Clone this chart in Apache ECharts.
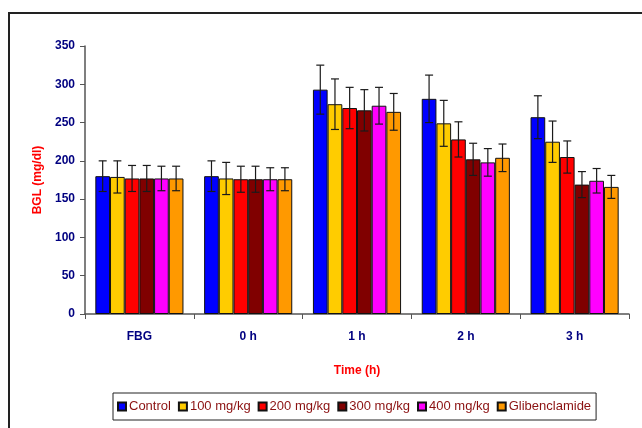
<!DOCTYPE html>
<html lang="en">
  <head>
    <meta charset="UTF-8" />
    <script src="https://cdn.jsdelivr.net/npm/echarts@6/dist/echarts.min.js"></script>
    <title>BGL chart</title>
    <style>
      html, body { margin: 0; padding: 0; background: #fff; }
      #app { width: 642px; height: 428px; }
    </style>
  </head>
  <body>
    <div id="app"></div>
    <script>
      const categories = ["FBG", "0 h", "1 h", "2 h", "3 h"];
      const groupNames = ["Control", "100 mg/kg", "200 mg/kg", "300 mg/kg", "400 mg/kg", "Glibenclamide"];
      const colors = ["#0000FF", "#FFCC00", "#FF0000", "#800000", "#FF00FF", "#FF9900"];

      // mean values
      const control = [180, 180, 293, 281, 257];
      const mg100 = [179, 177, 274, 249, 225];
      const mg200 = [177, 176, 269, 228, 205];
      const mg300 = [177, 176, 266, 202, 169];
      const mg400 = [177, 176, 272, 198, 174];
      const glib = [177, 176, 264, 204, 166];

      // error (+/-)
      const controlErr = [20, 20, 32, 31, 28];
      const mg100Err = [21, 21, 33, 30, 27];
      const mg200Err = [17, 17, 27, 23, 21];
      const mg300Err = [17, 17, 27, 21, 17];
      const mg400Err = [16, 15, 24, 18, 16];
      const glibErr = [16, 15, 24, 18, 15];

      const means = [control, mg100, mg200, mg300, mg400, glib];
      const errs = [controlErr, mg100Err, mg200Err, mg300Err, mg400Err, glibErr];

      const catGap = 0.19; // barCategoryGap
      const nGroups = groupNames.length;

      const chart = echarts.init(document.getElementById("app"));

      const barSeries = groupNames.map((name, i) => ({
        name: name,
        type: "bar",
        barGap: "0%",
        barCategoryGap: catGap * 100 + "%",
        itemStyle: { color: colors[i], borderColor: "#111", borderWidth: 1 },
        emphasis: { disabled: true },
        data: means[i],
      }));

      // error bars drawn with a custom series per group
      const errSeries = groupNames.map((name, i) => ({
        type: "custom",
        z: 5,
        silent: true,
        data: categories.map((c, k) => [k, means[i][k], errs[i][k]]),
        renderItem(params, api) {
          const catW = api.size([1, 0])[0];
          const bw = (catW * (1 - catGap)) / nGroups;
          const off = -catW * (1 - catGap) / 2 + (i + 0.5) * bw;
          const top = api.coord([api.value(0), api.value(1) + api.value(2)]);
          const bot = api.coord([api.value(0), api.value(1) - api.value(2)]);
          const x = top[0] + off;
          const cap = 4;
          const style = { stroke: "#1a1a1a", lineWidth: 1.2 };
          return {
            type: "group",
            children: [
              { type: "line", shape: { x1: x, y1: top[1], x2: x, y2: bot[1] }, style },
              { type: "line", shape: { x1: x - cap, y1: top[1], x2: x + cap, y2: top[1] }, style },
              { type: "line", shape: { x1: x - cap, y1: bot[1], x2: x + cap, y2: bot[1] }, style },
            ],
          };
        },
      }));

      const axisText = {
        color: "#000080",
        fontWeight: "bold",
        fontSize: 12,
        fontFamily: "Liberation Sans, Arial, sans-serif",
      };
      const nameText = {
        color: "#FF0000",
        fontWeight: "bold",
        fontSize: 12,
        fontFamily: "Liberation Sans, Arial, sans-serif",
      };

      chart.setOption({
        animation: false,
        textStyle: { fontFamily: "Liberation Sans, Arial, sans-serif" },
        graphic: [
          {
            type: "rect",
            shape: { x: 9, y: 13, width: 700, height: 500 },
            style: { fill: "none", stroke: "#222", lineWidth: 2 },
            silent: true,
          },
        ],
        grid: { left: 85, top: 46, right: 13, bottom: 114 },
        legend: {
          data: groupNames,
          left: 113,
          top: 393,
          icon: "rect",
          itemWidth: 8,
          itemHeight: 8,
          itemGap: 7,
          padding: [7, 5, 7, 4],
          borderColor: "#222",
          borderWidth: 1,
          textStyle: {
            color: "#8B1111",
            fontSize: 13,
            padding: [0, 0, 0, -2],
            fontFamily: "Liberation Sans, Arial, sans-serif",
          },
        },
        xAxis: {
          type: "category",
          data: categories,
          name: "Time (h)",
          nameLocation: "middle",
          nameGap: 51,
          nameTextStyle: nameText,
          axisLine: { lineStyle: { color: "#555", width: 1.5 } },
          axisTick: { show: true, length: 5, lineStyle: { color: "#555" } },
          axisLabel: Object.assign({ margin: 17 }, axisText),
        },
        yAxis: {
          type: "value",
          min: 0,
          max: 350,
          interval: 50,
          name: "BGL (mg/dl)",
          nameLocation: "middle",
          nameGap: 38,
          nameTextStyle: nameText,
          splitLine: { show: false },
          axisLine: { show: true, lineStyle: { color: "#555", width: 1.5 } },
          axisTick: { show: true, length: 5, lineStyle: { color: "#555" } },
          axisLabel: Object.assign({ margin: 10 }, axisText),
        },
        series: barSeries.concat(errSeries),
      });
    </script>
  </body>
</html>
